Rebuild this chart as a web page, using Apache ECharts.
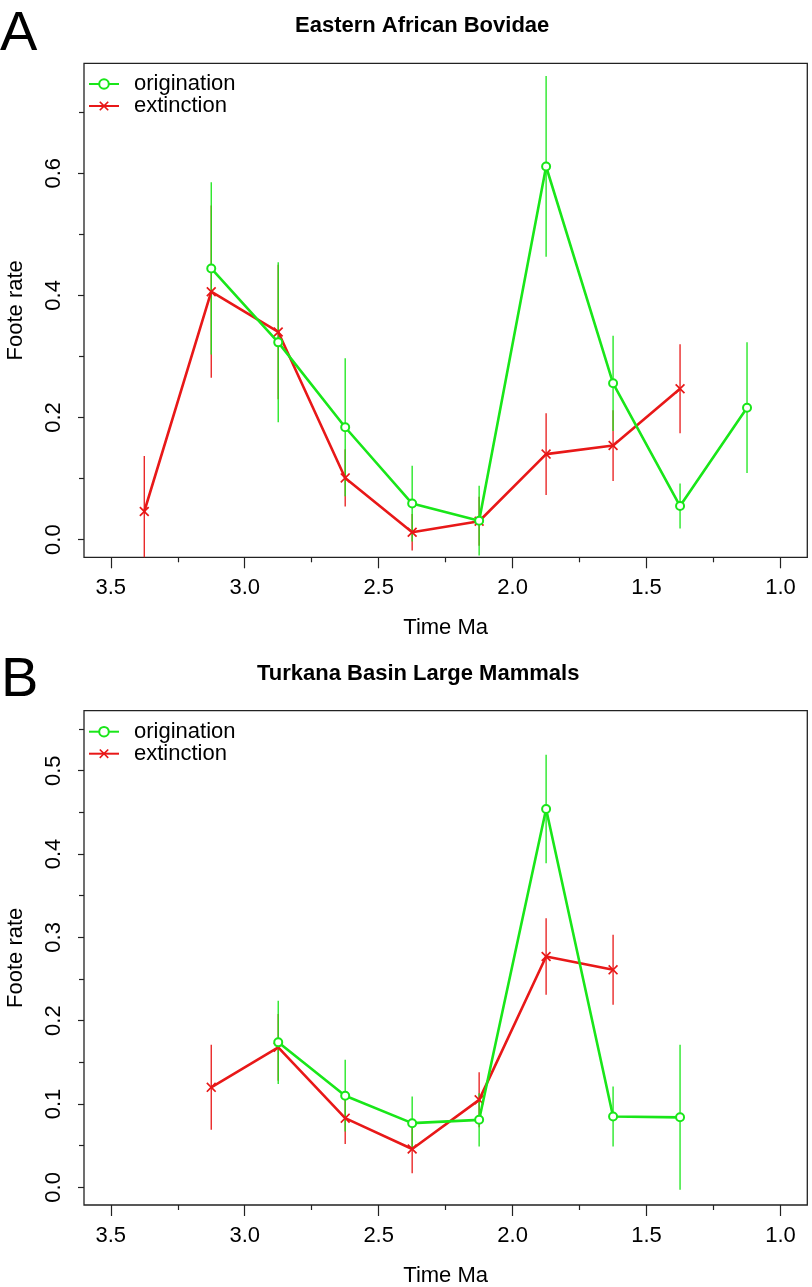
<!DOCTYPE html>
<html><head><meta charset="utf-8">
<script src="https://cdn.jsdelivr.net/npm/echarts@6/dist/echarts.min.js"></script>
<style>html,body{margin:0;padding:0;background:#fff}#c{width:812px;height:1287px}</style>
</head><body><div id="c"></div>
<script>
// ---- Data ----
const timesA   = [3.375, 3.125, 2.875, 2.625, 2.375, 2.125, 1.875, 1.625, 1.375, 1.125];
const origA    = [null, 0.444, 0.323, 0.184, 0.059, 0.031, 0.611, 0.256, 0.055, 0.216];
const origErrA = [null, 0.141, 0.131, 0.113, 0.062, 0.057, 0.148, 0.078, 0.037, 0.107];
const extA     = [0.046, 0.406, 0.340, 0.101, 0.012, 0.030, 0.140, 0.154, 0.247, null];
const extErrA  = [0.091, 0.141, 0.110, 0.047, 0.030, 0.040, 0.067, 0.058, 0.073, null];

const timesB   = [3.125, 2.875, 2.625, 2.375, 2.125, 1.875, 1.625, 1.375];
const origB    = [null, 0.174, 0.110, 0.077, 0.081, 0.454, 0.085, 0.084];
const origErrB = [null, 0.050, 0.043, 0.032, 0.032, 0.065, 0.036, 0.087];
const extB     = [0.120, 0.168, 0.083, 0.046, 0.105, 0.277, 0.261, null];
const extErrB  = [0.051, 0.040, 0.031, 0.029, 0.033, 0.046, 0.042, null];

const xMajorTicks = [1.0, 1.5, 2.0, 2.5, 3.0, 3.5];
const xMinorTicks = [1.25, 1.75, 2.25, 2.75, 3.25];
const yMajorTicksA = [0.0, 0.2, 0.4, 0.6];
const yMinorTicksA = [0.1, 0.3, 0.5, 0.7];
const yMajorTicksB = [0.0, 0.1, 0.2, 0.3, 0.4, 0.5];
const yMinorTicksB = [0.05, 0.15, 0.25, 0.35, 0.45, 0.55];

const titleA = 'Eastern African Bovidae';
const titleB = 'Turkana Basin Large Mammals';
const seriesNames = ['origination', 'extinction'];

// ---- Styling ----
const GREEN = '#19e619';
const RED = '#e81818';
const FONT = '"Liberation Sans", Arial, Helvetica, sans-serif';
const CROSS = 'path://M0,1.2L1.2,0L5,3.8L8.8,0L10,1.2L6.2,5L10,8.8L8.8,10L5,6.2L1.2,10L0,8.8L3.8,5Z';

function pairs(times, vals) {
  const out = [];
  times.forEach((t, i) => { if (vals[i] != null) out.push([t, vals[i]]); });
  return out;
}
function errData(times, vals, errs) {
  const out = [];
  times.forEach((t, i) => { if (vals[i] != null && errs[i] != null) out.push([t, vals[i] - errs[i], vals[i] + errs[i]]); });
  return out;
}
function errSeries(id, data, color, ai, z) {
  return {
    type: 'custom', name: id, xAxisIndex: ai, yAxisIndex: ai, z: z, clip: true, silent: true,
    data: data, encode: { x: 0, y: [1, 2] },
    renderItem: function (params, api) {
      const p1 = api.coord([api.value(0), api.value(1)]);
      const p2 = api.coord([api.value(0), api.value(2)]);
      return { type: 'line', shape: { x1: p1[0], y1: p1[1], x2: p2[0], y2: p2[1] },
               style: { stroke: color, lineWidth: 1.3 } };
    }
  };
}
function origSeries(data, ai) {
  return { type: 'line', name: seriesNames[0], xAxisIndex: ai, yAxisIndex: ai, z: 5, data: data,
    symbol: 'emptyCircle', symbolSize: 8, showAllSymbol: true,
    lineStyle: { color: GREEN, width: 2.6 },
    itemStyle: { color: GREEN, borderColor: GREEN, borderWidth: 2 } };
}
function extSeries(data, ai) {
  return { type: 'line', name: seriesNames[1], xAxisIndex: ai, yAxisIndex: ai, z: 4, data: data,
    symbol: CROSS, symbolSize: 10, showAllSymbol: true,
    lineStyle: { color: RED, width: 2.6 },
    itemStyle: { color: RED } };
}
function fmt(v) { return Number(v).toFixed(1); }

function xAxes(gi) {
  return [
    { type: 'value', gridIndex: gi, inverse: true, min: 0.9, max: 3.6, position: 'bottom',
      name: 'Time Ma', nameLocation: 'middle', nameGap: 60,
      nameTextStyle: { fontSize: 22, fontFamily: FONT, color: '#000' },
      axisLine: { show: false, onZero: false }, splitLine: { show: false },
      axisTick: { show: true, length: 11, customValues: xMajorTicks, lineStyle: { color: '#222', width: 1.2 } },
      axisLabel: { customValues: xMajorTicks, formatter: fmt, fontSize: 22, fontFamily: FONT, color: '#000', margin: 20 } },
    { type: 'value', gridIndex: gi, inverse: true, min: 0.9, max: 3.6, position: 'bottom',
      axisLine: { show: false, onZero: false }, splitLine: { show: false },
      axisTick: { show: true, length: 5, customValues: xMinorTicks, lineStyle: { color: '#222', width: 1.2 } },
      axisLabel: { show: false } }
  ];
}
function yAxes(gi, min, max, major, minor) {
  return [
    { type: 'value', gridIndex: gi, min: min, max: max, position: 'left',
      name: 'Foote rate', nameLocation: 'middle', nameGap: 57,
      nameTextStyle: { fontSize: 22, fontFamily: FONT, color: '#000' },
      axisLine: { show: false, onZero: false }, splitLine: { show: false },
      axisTick: { show: true, length: 6, customValues: major, lineStyle: { color: '#222', width: 1.2 } },
      axisLabel: { customValues: major, formatter: fmt, rotate: 90, fontSize: 22, fontFamily: FONT, color: '#000', margin: 19 } },
    { type: 'value', gridIndex: gi, min: min, max: max, position: 'left',
      axisLine: { show: false, onZero: false }, splitLine: { show: false },
      axisTick: { show: true, length: 5, customValues: minor, lineStyle: { color: '#222', width: 1.2 } },
      axisLabel: { show: false } }
  ];
}
function legendAt(top) {
  return { left: 88, top: top, orient: 'vertical', data: seriesNames, selectedMode: false,
    itemWidth: 30, itemHeight: 12, itemGap: 0, padding: 0,
    textStyle: { fontSize: 22, lineHeight: 20, fontFamily: FONT, color: '#000', padding: [0, 0, 0, 10] } };
}

const chart = echarts.init(document.getElementById('c'));
chart.setOption({
  animation: false,
  backgroundColor: '#fff',
  grid: [
    { left: 84, right: 4.7, top: 63.3, height: 494, containLabel: false, outerBoundsMode: 'none',
      show: true, borderColor: '#222', borderWidth: 1.3, backgroundColor: 'transparent' },
    { left: 84, right: 4.7, top: 710.7, height: 494.3, containLabel: false, outerBoundsMode: 'none',
      show: true, borderColor: '#222', borderWidth: 1.3, backgroundColor: 'transparent' }
  ],
  xAxis: xAxes(0).concat(xAxes(1)),
  yAxis: yAxes(0, -0.029, 0.78, yMajorTicksA, yMinorTicksA).concat(yAxes(1, -0.0212, 0.572, yMajorTicksB, yMinorTicksB)),
  legend: [legendAt(73), legendAt(720.7)],
  graphic: [
    { type: 'text', left: 0, top: 7, style: { text: 'A', font: '56px ' + FONT, fill: '#000' } },
    { type: 'text', left: 1, top: 653, style: { text: 'B', font: '56px ' + FONT, fill: '#000' } },
    { type: 'text', left: 295, top: 15, style: { text: titleA, font: 'bold 22px ' + FONT, fill: '#000' } },
    { type: 'text', left: 257, top: 663, style: { text: titleB, font: 'bold 22px ' + FONT, fill: '#000' } }
  ],
  series: [
    errSeries('extErrA', errData(timesA, extA, extErrA), RED, 0, 1),
    errSeries('origErrA', errData(timesA, origA, origErrA), GREEN, 0, 2),
    extSeries(pairs(timesA, extA), 0),
    origSeries(pairs(timesA, origA), 0),
    errSeries('extErrB', errData(timesB, extB, extErrB), RED, 2, 1),
    errSeries('origErrB', errData(timesB, origB, origErrB), GREEN, 2, 2),
    extSeries(pairs(timesB, extB), 2),
    origSeries(pairs(timesB, origB), 2)
  ]
});
</script>
</body></html>
